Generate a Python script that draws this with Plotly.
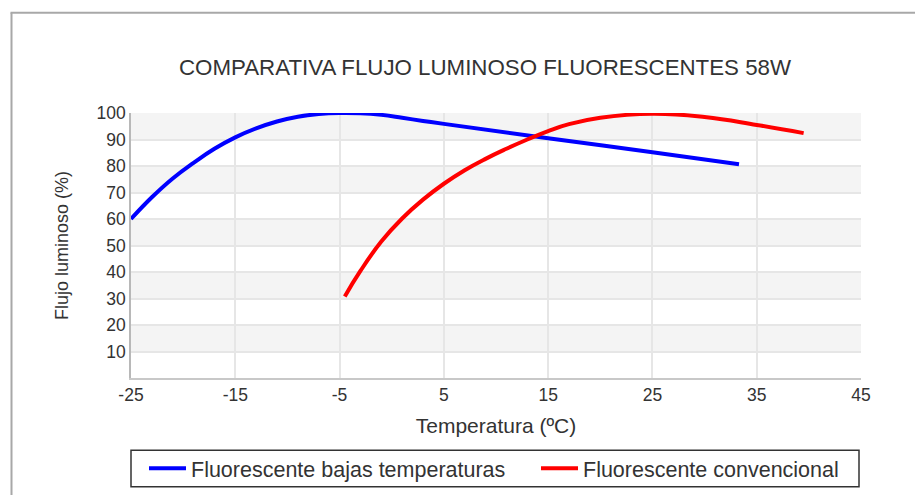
import plotly.graph_objects as go

# Data
blue_name = "Fluorescente bajas temperaturas"
blue_x = [-25, -23, -21, -19, -17, -15, -13, -11, -9, -7, -5, -3, -1, 1, 3, 5, 15, 25, 33.3]
blue_y = [60, 68.2, 75.3, 81.2, 86.5, 90.8, 94.2, 96.8, 98.6, 99.6, 100, 99.9, 99.3, 98.2, 97.0, 95.9, 90.5, 85.2, 80.7]

red_name = "Fluorescente convencional"
red_x = [-4.5, -3, -1, 1, 3, 5, 7, 9, 11, 13, 15, 17, 20, 25, 30, 35, 39.5]
red_y = [30.8, 40.4, 51.5, 60.2, 67.3, 73.3, 78.4, 82.7, 86.5, 90.0, 93.2, 95.8, 98.2, 99.7, 98.5, 95.5, 92.4]

x_ticks = [-25, -15, -5, 5, 15, 25, 35, 45]
y_ticks = [10, 20, 30, 40, 50, 60, 70, 80, 90, 100]
band_ranges = [(10, 20), (30, 40), (50, 60), (70, 80), (90, 100)]

title_text = "COMPARATIVA FLUJO LUMINOSO FLUORESCENTES 58W"
x_title = "Temperatura (ºC)"
y_title = "Flujo luminoso (%)"

FONT = "Liberation Sans, Arial, sans-serif"
OFF = 8  # page body margin
W, H = 923 - OFF, 495 - OFF
ML, MR, MT, MB = 123, 62, 105, 116.5
PW = W - ML - MR
PH = H - MT - MB


def px2paper_x(px):
    # px in screen (reference) coordinates
    return (px - OFF - ML) / PW


def px2paper_y(py):
    return (H - MB - (py - OFF)) / PH


fig = go.Figure()
fig.add_trace(go.Scatter(x=blue_x, y=blue_y, mode="lines", name=blue_name, legend="legend",
                         line=dict(color="#0000ff", width=4, shape="spline", smoothing=1.3)))
fig.add_trace(go.Scatter(x=red_x, y=red_y, mode="lines", name=red_name, legend="legend2",
                         line=dict(color="#ff0000", width=4, shape="spline", smoothing=1.3)))

shapes = []
for lo, hi in band_ranges:
    shapes.append(dict(type="rect", xref="paper", yref="y", x0=0, x1=1, y0=lo, y1=hi,
                       fillcolor="#f4f4f4", line=dict(width=0), layer="below"))
# outer frame (left and top)
shapes.append(dict(type="line", xref="paper", yref="paper",
                   x0=px2paper_x(11.5), x1=px2paper_x(11.5), y0=px2paper_y(12.5), y1=px2paper_y(520),
                   line=dict(color="#a8a8a8", width=2)))
shapes.append(dict(type="line", xref="paper", yref="paper",
                   x0=px2paper_x(10.5), x1=px2paper_x(940), y0=px2paper_y(12.5), y1=px2paper_y(12.5),
                   line=dict(color="#a8a8a8", width=2)))
# legend box
shapes.append(dict(type="rect", xref="paper", yref="paper",
                   x0=px2paper_x(131), x1=px2paper_x(859), y0=px2paper_y(451), y1=px2paper_y(487.5),
                   line=dict(color="#333333", width=1.5), fillcolor="rgba(0,0,0,0)"))

legend_common = dict(orientation="h", xanchor="left", yanchor="middle",
                     y=px2paper_y(469),
                     font=dict(size=21.5, color="#333333", family=FONT),
                     borderwidth=0, bgcolor="rgba(0,0,0,0)", itemwidth=37)

fig.update_layout(
    width=W, height=H,
    margin=dict(l=ML, r=MR, t=MT, b=MB, autoexpand=False),
    paper_bgcolor="white", plot_bgcolor="white",
    font=dict(family=FONT, color="#333333"),
    title=dict(text=title_text, x=px2paper_x(485), xanchor="center", xref="paper",
               y=1 - (67.5 - OFF) / H, yanchor="middle",
               font=dict(size=22.3, color="#333333", family=FONT)),
    shapes=shapes,
    showlegend=True,
    legend=dict(x=px2paper_x(144), **legend_common),
    legend2=dict(x=px2paper_x(536), **legend_common),
)
fig.update_xaxes(range=[-25, 45], tickvals=x_ticks, ticktext=[str(v) for v in x_ticks],
                 showgrid=True, gridcolor="#e6e6e6", gridwidth=1.5,
                 showline=True, linecolor="#c8c8c8", linewidth=1.5,
                 zeroline=False, ticks="", tickfont=dict(size=17.5, color="#333333"),
                 title=dict(text=x_title, font=dict(size=21, color="#333333"), standoff=15))
fig.update_yaxes(range=[0, 100], tickvals=y_ticks, ticktext=[str(v) for v in y_ticks],
                 showgrid=True, gridcolor="#e6e6e6", gridwidth=1.5,
                 showline=True, linecolor="#b8b8b8", linewidth=1.5,
                 zeroline=False, ticks="", tickfont=dict(size=17.5, color="#333333"),
                 ticklabelstandoff=0,
                 title=dict(text=y_title, font=dict(size=18, color="#333333"), standoff=23))

fig.write_html("out.html")
